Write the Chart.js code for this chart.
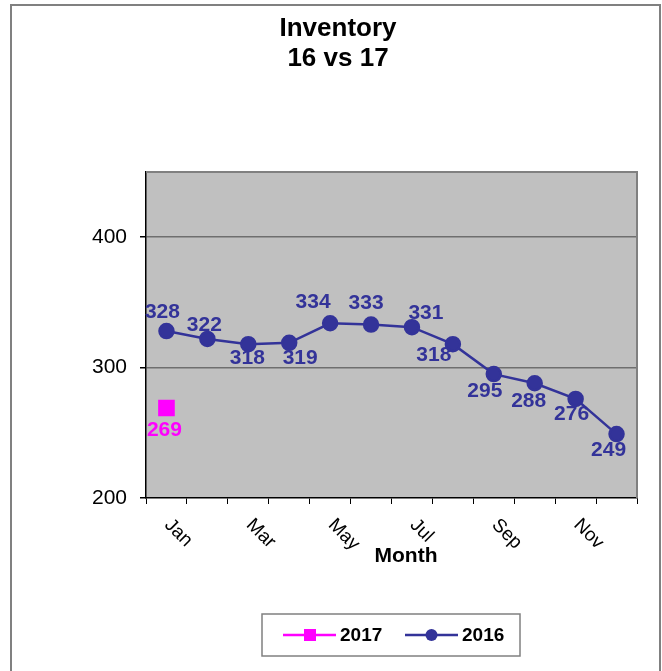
<!DOCTYPE html>
<html>
<head>
<meta charset="utf-8">
<script src="https://cdn.jsdelivr.net/npm/chart.js@4/dist/chart.umd.min.js"></script>
<style>
  body { margin: 0; background: #fff; }
  canvas { display: block; }
</style>
</head>
<body>
<canvas id="inventoryChart" width="662" height="671"></canvas>
<script>
const months = ["Jan", "Feb", "Mar", "Apr", "May", "Jun", "Jul", "Aug", "Sep", "Oct", "Nov", "Dec"];
const inv2017 = [269];
const inv2016 = [328, 322, 318, 319, 334, 333, 331, 318, 295, 288, 276, 249];
const yTicks = [200, 300, 400];

const FONT = "Arial, 'Liberation Sans', sans-serif";

// where each value label sits relative to its point (Excel put them by hand)
const labelOffsets = [
  [[-2, 22]],
  [[-4, -19], [-3, -14], [-1, 14], [11, 15], [-17, -21], [-5, -21],
   [14, -14], [-19, 11], [-9, 17], [-6, 18], [-4, 15], [-8, 16]]
];

const frame = {
  id: "frame",
  beforeDraw(chart) {
    const ctx = chart.ctx;
    const a = chart.chartArea;
    ctx.save();
    ctx.fillStyle = "#fff";
    ctx.fillRect(0, 0, chart.width, chart.height);
    // outer chart border (bottom edge is off the picture)
    ctx.strokeStyle = "#808080";
    ctx.lineWidth = 2;
    ctx.beginPath();
    ctx.moveTo(11, chart.height + 2);
    ctx.lineTo(11, 5);
    ctx.lineTo(660, 5);
    ctx.lineTo(660, chart.height + 2);
    ctx.stroke();
    ctx.fillStyle = "#c0c0c0";
    ctx.fillRect(a.left, a.top, a.right - a.left, a.bottom - a.top);
    ctx.restore();
  },
  beforeDatasetsDraw(chart) {
    const ctx = chart.ctx;
    const a = chart.chartArea;
    ctx.save();
    ctx.strokeStyle = "#808080";
    ctx.lineWidth = 2;
    ctx.beginPath();
    ctx.moveTo(a.left, a.top);
    ctx.lineTo(a.right, a.top);
    ctx.lineTo(a.right, a.bottom);
    ctx.stroke();
    ctx.restore();
  },
  afterDatasetsDraw(chart) {
    const ctx = chart.ctx;
    ctx.save();
    ctx.font = "bold 21px " + FONT;
    ctx.textAlign = "center";
    ctx.textBaseline = "middle";
    chart.data.datasets.forEach((ds, i) => {
      const meta = chart.getDatasetMeta(i);
      ctx.fillStyle = ds.borderColor;
      meta.data.forEach((pt, j) => {
        if (ds.data[j] == null) return;
        const off = labelOffsets[i][j] || [0, -18];
        ctx.fillText(ds.data[j], pt.x + off[0], pt.y + off[1]);
      });
    });
    ctx.restore();
  },
  afterDraw(chart) {
    const ctx = chart.ctx;
    const xs = chart.scales.x;
    ctx.save();
    // rotated month labels, every other month like the original
    ctx.fillStyle = "#000";
    ctx.font = "19px " + FONT;
    ctx.textAlign = "left";
    ctx.textBaseline = "middle";
    months.forEach((m, i) => {
      if (i % 2) return;
      ctx.save();
      ctx.translate(xs.getPixelForValue(i) + 1, 522);
      ctx.rotate(Math.PI / 4);
      ctx.fillText(m, 0, 0);
      ctx.restore();
    });

    // axis title
    ctx.font = "bold 21px " + FONT;
    ctx.textAlign = "center";
    ctx.fillText("Month", 406, 556);

    // legend box
    ctx.strokeStyle = "#808080";
    ctx.lineWidth = 1.5;
    ctx.strokeRect(262, 614, 258, 42);
    const y = 635;
    const starts = [283, 405];
    chart.data.datasets.forEach((ds, i) => {
      const x0 = starts[i];
      ctx.strokeStyle = ds.borderColor;
      ctx.lineWidth = 2.5;
      ctx.beginPath();
      ctx.moveTo(x0, y);
      ctx.lineTo(x0 + 53, y);
      ctx.stroke();
      ctx.fillStyle = ds.borderColor;
      if (ds.pointStyle === "rect") {
        ctx.fillRect(x0 + 21, y - 6, 12, 12);
      } else {
        ctx.beginPath();
        ctx.arc(x0 + 26.5, y, 6, 0, Math.PI * 2);
        ctx.fill();
      }
      ctx.fillStyle = "#000";
      ctx.font = "bold 19px " + FONT;
      ctx.textAlign = "left";
      ctx.fillText(ds.label, x0 + 57, y + 1);
    });
    ctx.restore();
  }
};

new Chart(document.getElementById("inventoryChart"), {
  type: "line",
  data: {
    labels: months,
    datasets: [
      {
        label: "2017",
        data: inv2017,
        borderColor: "#ff00ff",
        backgroundColor: "#ff00ff",
        borderWidth: 2.5,
        pointStyle: "rect",
        pointRadius: 10,
        pointHoverRadius: 10
      },
      {
        label: "2016",
        data: inv2016,
        borderColor: "#333399",
        backgroundColor: "#333399",
        borderWidth: 2.5,
        pointStyle: "circle",
        pointRadius: 7,
        pointHoverRadius: 7
      }
    ]
  },
  options: {
    responsive: false,
    animation: false,
    events: [],
    layout: { padding: { top: 0, left: 39, right: 25, bottom: 106 } },
    plugins: {
      legend: { display: false },
      tooltip: { enabled: false },
      title: {
        display: true,
        text: ["Inventory", "16 vs 17"],
        color: "#000",
        font: { family: FONT, size: 26, weight: "bold", lineHeight: 1.154 },
        padding: { top: 14, bottom: 98 }
      }
    },
    scales: {
      x: {
        offset: true,
        grid: {
          offset: true,
          drawOnChartArea: false,
          tickColor: "#000",
          tickLength: 6
        },
        border: { color: "#000", width: 1.5 },
        ticks: { display: false },
        afterFit(scale) { scale.height = 67; }
      },
      y: {
        min: 200,
        max: 450,
        afterBuildTicks(scale) {
          scale.ticks = yTicks.map(v => ({ value: v }));
        },
        grid: {
          color: ctx => (ctx.tick && ctx.tick.value === 200 ? "rgba(0,0,0,0)" : "#6e6e6e"),
          lineWidth: 1.5,
          tickColor: "#000",
          tickLength: 6
        },
        border: { color: "#000", width: 1.5 },
        ticks: {
          color: "#000",
          padding: 13,
          font: { family: FONT, size: 21 }
        },
        afterFit(scale) { scale.width = 107; }
      }
    }
  },
  plugins: [frame]
});
</script>
</body>
</html>
